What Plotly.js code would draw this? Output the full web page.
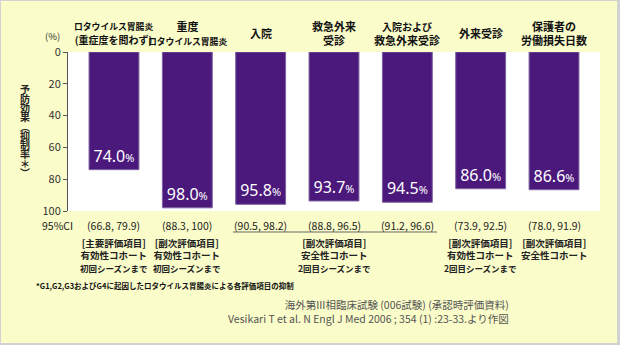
<!DOCTYPE html>
<html><head><meta charset="utf-8">
<script src="https://cdn.plot.ly/plotly-3.0.1.min.js"></script>
<style>
html,body{margin:0;padding:0;background:#fafcc9;}
#wrap{position:relative;width:620px;height:345px;overflow:hidden;}
#chart{width:620px;height:345px;}
#frame{position:absolute;left:0;top:0;width:620px;height:345px;box-sizing:border-box;border-style:solid;border-color:#d2d2d2;border-width:1px 3px 2px 1px;pointer-events:none;}
</style></head>
<body><div id="wrap"><div id="chart"></div><div id="frame"></div></div>
<script>
const categories = ['ロタウイルス胃腸炎 (重症度を問わず)', '重度 ロタウイルス胃腸炎', '入院', '救急外来受診', '入院および救急外来受診', '外来受診', '保護者の労働損失日数'];
const headerLines = [
  ['ロタウイルス胃腸炎', '(重症度を問わず)'],
  ['重度', 'ロタウイルス胃腸炎'],
  ['入院'],
  ['救急外来', '受診'],
  ['入院および', '救急外来受診'],
  ['外来受診'],
  ['保護者の', '労働損失日数']
];
const efficacy = [74.0, 98.0, 95.8, 93.7, 94.5, 86.0, 86.6];
const ciLabels = ['(66.8, 79.9)', '(88.3, 100)', '(90.5, 98.2)', '(88.8, 96.5)', '(91.2, 96.6)', '(73.9, 92.5)', '(78.0, 91.9)'];
const notes = [
  ['[主要評価項目]', '有効性コホート', '初回シーズンまで'],
  ['[副次評価項目]', '有効性コホート', '初回シーズンまで'],
  [],
  ['[副次評価項目]', '安全性コホート', '2回目シーズンまで'],
  [],
  ['[副次評価項目]', '有効性コホート', '2回目シーズンまで'],
  ['[副次評価項目]', '安全性コホート']
];
const yTicks = [0, 20, 40, 60, 80, 100];
const yTitle = '予防効果（抑制率＊）';
const ciHeader = '95%CI';
const unitLabel = '(%)';
const footnote = '*G1,G2,G3およびG4に起因したロタウイルス胃腸炎による各評価項目の抑制';
const sourceLines = ['海外第III相臨床試験 (006試験) (承認時評価資料)', 'Vesikari T et al. N Engl J Med 2006 ; 354 (1) :23-33.より作図'];

// layout geometry helpers (plot area: x 68..600, y 52..211 px)
const L = 68, R = 600, T = 52, B = 211;
const px = v => (v - L) / (R - L);
const py = v => (B - v) / (B - T);
const JP = '"Noto Sans CJK JP", "Noto Sans", sans-serif';
const kanaRe = /[\u30A0-\u30FF\u3040-\u309F]/g;
const kanaCount = t => (t.match(kanaRe) || []).length;
// the reference font has narrow kana: set kana-heavy lines a little smaller
function headerFmt(t) {
  const n = kanaCount(t);
  if (n >= 5) return '<span style="font-size:8.8px">' + t + '</span>';
  if (n >= 3) return '<span style="font-size:10px">' + t + '</span>';
  return t;
}
function noteFmt(t) {
  return kanaCount(t) >= 5 ? '<span style="font-size:8.5px">' + t + '</span>' : t;
}

const ann = [];
categories.forEach((c, i) => {
  ann.push({x: c, xref: 'x', y: py(33), yref: 'paper', text: headerLines[i].map(headerFmt).join('<br>'),
    showarrow: false, xanchor: 'center', yanchor: 'middle', borderpad: 0,
    font: {family: JP, size: 11, color: '#111', weight: 'bold'}});
  ann.push({x: c, xref: 'x', y: py(225), yref: 'paper', text: ciLabels[i], showarrow: false,
    xanchor: 'center', yanchor: 'middle', borderpad: 0, font: {family: JP, size: 10.5, color: '#222'}});
  if (notes[i].length) {
    ann.push({x: c, xref: 'x', y: py(234.5), yref: 'paper', text: notes[i].map(noteFmt).join('<br>'),
      showarrow: false, xanchor: 'center', yanchor: 'top', borderpad: 0,
      font: {family: JP, size: 9.5, color: '#222', weight: 'bold'}});
  }
});
const yTitleIdx = ann.length;
ann.push({x: px(25), xref: 'paper', y: py(131), yref: 'paper', text: yTitle, showarrow: false,
  xanchor: 'center', yanchor: 'middle', font: {family: JP, size: 10, color: '#222', weight: 'bold'}});
ann.push({x: px(52), xref: 'paper', y: py(36.5), yref: 'paper', text: unitLabel, showarrow: false,
  xanchor: 'center', yanchor: 'middle', borderpad: 0, font: {family: JP, size: 9.5, color: '#333'}});
ann.push({x: px(57), xref: 'paper', y: py(225), yref: 'paper', text: ciHeader, showarrow: false,
  xanchor: 'center', yanchor: 'middle', borderpad: 0, font: {family: JP, size: 10.5, color: '#222'}});
ann.push({x: px(35), xref: 'paper', y: py(285), yref: 'paper', text: footnote, showarrow: false,
  xanchor: 'left', yanchor: 'middle', borderpad: 0, font: {family: JP, size: 7.5, color: '#111', weight: 'bold'}});
ann.push({x: px(510), xref: 'paper', y: py(311), yref: 'paper', text: sourceLines.join('<br>'), showarrow: false,
  xanchor: 'right', yanchor: 'middle', align: 'right', borderpad: 0, font: {family: JP, size: 10.5, color: '#555'}});

const trace = {
  type: 'bar', x: categories, y: efficacy, width: 0.68,
  marker: {color: '#4b197b', line: {color: '#7d62a0', width: 1}},
  text: efficacy.map(v => v.toFixed(1) + '<span style="font-size:11px">%</span>'),
  textposition: 'inside', insidetextanchor: 'end', textangle: 0, constraintext: 'none',
  textfont: {family: '"Noto Sans", sans-serif', size: 16, color: '#ffffff'},
  hoverinfo: 'none'
};

const layout = {
  width: 620, height: 345,
  margin: {l: L, r: 620 - R, t: T, b: 345 - B, pad: 0},
  paper_bgcolor: '#fafcc9', plot_bgcolor: '#ffffff',
  showlegend: false, bargap: 0,
  xaxis: {type: 'category', range: [-0.627, 6.627], showticklabels: false, ticks: '',
    showline: false, showgrid: false, zeroline: false, fixedrange: true},
  yaxis: {range: [100, 0], tickvals: yTicks, ticktext: yTicks.map(String), ticks: 'outside',
    ticklen: 4, tickcolor: '#555', showline: true, linecolor: '#555', linewidth: 1,
    showgrid: false, zeroline: false, tickfont: {family: JP, size: 11, color: '#333'}, fixedrange: true},
  shapes: [{type: 'line', xref: 'paper', yref: 'paper', x0: px(233), x1: px(437), y0: py(232), y1: py(232),
    line: {color: '#666', width: 1}}],
  annotations: ann
};
Plotly.newPlot('chart', [trace], layout, {displayModeBar: false, staticPlot: true}).then(gd => {
  // render the y-axis title in vertical (tategaki) writing, characters upright
  const el = gd.querySelector('g.annotation[data-index="' + yTitleIdx + '"] text.annotation-text');
  if (!el) return;
  el.style.writingMode = 'vertical-rl';
  el.style.letterSpacing = '-0.7px';
  el.setAttribute('text-anchor', 'middle');
  const svg = el.ownerSVGElement;
  const pt = svg.createSVGPoint();
  const r = gd.getBoundingClientRect();
  pt.x = r.left + 25; pt.y = r.top + 131;
  const loc = pt.matrixTransform(el.getScreenCTM().inverse());
  el.setAttribute('x', loc.x); el.setAttribute('y', loc.y);
  el.removeAttribute('dy');
});
</script></body></html>
